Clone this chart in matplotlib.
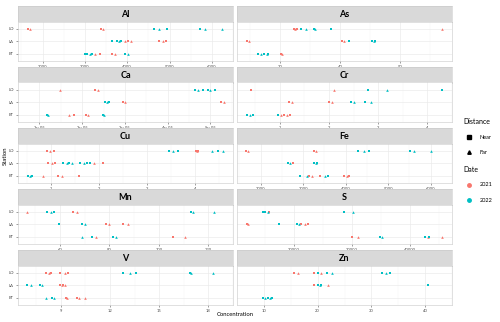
import matplotlib
matplotlib.use("Agg")
import matplotlib.pyplot as plt
from matplotlib.lines import Line2D
import numpy as np

plt.rcParams['font.family'] = ['Lato', 'DejaVu Sans']

# station codes, bottom to top
stations = ["BT", "LA", "LO"]
years = [2021, 2022]
year_colors = {2021: "#F8766D", 2022: "#00BFC4"}
dist_markers = {"Near": "s", "Far": "^"}

# (station, year, distance, concentration)
al = [("LO",2021,"Near",1650),("LO",2021,"Far",1700),("LO",2021,"Near",3370),("LO",2021,"Far",3430),
      ("LO",2022,"Near",4630),("LO",2022,"Far",4740),("LO",2022,"Near",4930),("LO",2022,"Near",5730),
      ("LO",2022,"Far",5845),("LO",2022,"Far",6250),
      ("LA",2022,"Near",3630),("LA",2022,"Near",3760),("LA",2022,"Far",3800),("LA",2022,"Near",3860),
      ("LA",2021,"Far",3940),("LA",2021,"Near",4020),("LA",2021,"Far",4100),("LA",2021,"Near",4760),
      ("LA",2021,"Far",4840),("LA",2021,"Near",4910),
      ("BT",2022,"Near",3010),("BT",2022,"Near",3060),("BT",2022,"Far",3110),("BT",2022,"Near",3165),
      ("BT",2021,"Far",3240),("BT",2021,"Near",3360),("BT",2021,"Near",3630),("BT",2021,"Far",3710),
      ("BT",2022,"Near",3940),("BT",2022,"Far",4020)]
as_ = [("LO",2021,"Near",32.2),("LO",2021,"Far",32.5),("LO",2021,"Near",32.8),("LO",2022,"Near",33.5),
       ("LO",2022,"Far",34.2),("LO",2022,"Near",35.6),("LO",2022,"Far",35.8),("LO",2022,"Near",38.5),
       ("LO",2021,"Far",57.0),
       ("LA",2021,"Near",24.4),("LA",2021,"Far",24.7),("LA",2021,"Near",40.3),("LA",2021,"Far",40.6),
       ("LA",2022,"Near",41.5),("LA",2022,"Near",45.3),("LA",2022,"Far",45.6),("LA",2022,"Near",45.8),
       ("BT",2022,"Near",26.2),("BT",2022,"Far",26.8),("BT",2022,"Near",27.3),("BT",2022,"Far",27.8),
       ("BT",2022,"Near",28.0),("BT",2021,"Near",30.1),("BT",2021,"Far",30.3)]
ca = [("LO",2021,"Far",148000),("LO",2021,"Near",230000),("LO",2021,"Far",236000),("LO",2022,"Near",465000),
      ("LO",2022,"Far",472000),("LO",2022,"Near",483000),("LO",2022,"Near",495000),("LO",2022,"Far",500000),
      ("LO",2022,"Near",510000),
      ("LA",2022,"Near",253000),("LA",2022,"Far",257000),("LA",2022,"Near",262000),("LA",2021,"Near",295000),
      ("LA",2021,"Far",300000),("LA",2021,"Near",524000),("LA",2021,"Far",532000),
      ("BT",2022,"Near",117000),("BT",2022,"Far",121000),("BT",2021,"Far",170000),("BT",2021,"Near",180000),
      ("BT",2021,"Near",208000),("BT",2021,"Far",213000),("BT",2022,"Near",248000),("BT",2022,"Far",252000)]
cr = [("LO",2021,"Near",0.41),("LO",2021,"Far",2.10),("LO",2022,"Near",2.79),("LO",2022,"Far",3.18),
      ("LO",2022,"Near",4.29),
      ("LA",2021,"Near",1.19),("LA",2021,"Far",1.25),("LA",2021,"Near",2.00),("LA",2021,"Far",2.06),
      ("LA",2022,"Near",2.45),("LA",2022,"Far",2.50),("LA",2022,"Near",2.74),("LA",2022,"Far",2.86),
      ("BT",2022,"Near",0.33),("BT",2022,"Far",0.40),("BT",2022,"Near",0.45),("BT",2022,"Near",0.96),
      ("BT",2021,"Far",1.02),("BT",2021,"Near",1.08),("BT",2021,"Far",1.15),("BT",2021,"Near",1.20)]
cu = [("LO",2021,"Near",0.92),("LO",2021,"Far",0.99),("LO",2021,"Near",1.07),("LO",2022,"Near",3.46),
      ("LO",2022,"Far",3.55),("LO",2022,"Near",3.65),("LO",2021,"Near",4.02),("LO",2021,"Far",4.04),
      ("LO",2021,"Near",4.06),("LO",2022,"Far",4.35),("LO",2022,"Near",4.48),("LO",2022,"Far",4.59),
      ("LA",2021,"Near",0.94),("LA",2021,"Far",1.02),("LA",2021,"Near",1.09),("LA",2022,"Near",1.26),
      ("LA",2022,"Far",1.33),("LA",2022,"Near",1.38),("LA",2022,"Far",1.44),("LA",2022,"Near",1.61),
      ("LA",2022,"Far",1.70),("LA",2022,"Near",1.75),("LA",2022,"Near",1.82),("LA",2021,"Far",1.90),
      ("LA",2021,"Near",2.09),
      ("BT",2022,"Near",0.52),("BT",2022,"Far",0.56),("BT",2022,"Near",0.61),("BT",2021,"Far",0.83),
      ("BT",2021,"Near",1.15),("BT",2021,"Far",1.23),("BT",2021,"Near",1.59)]
fe = [("LO",2021,"Near",1663),("LO",2021,"Far",1700),("LO",2021,"Near",3260),("LO",2021,"Far",3310),
      ("LO",2022,"Near",4284),("LO",2022,"Far",4420),("LO",2022,"Near",4550),("LO",2022,"Near",5503),
      ("LO",2022,"Far",5614),("LO",2022,"Far",5997),
      ("LA",2022,"Near",2650),("LA",2022,"Far",2700),("LA",2021,"Near",2770),("LA",2022,"Near",3260),
      ("LA",2022,"Far",3300),("LA",2022,"Near",3330),
      ("BT",2022,"Near",2916),("BT",2022,"Far",3090),("BT",2021,"Near",3150),("BT",2021,"Far",3200),
      ("BT",2021,"Near",3400),("BT",2022,"Far",3510),("BT",2022,"Near",3580),("BT",2021,"Near",3970),
      ("BT",2021,"Far",4030),("BT",2021,"Near",4080)]
mn = [("LO",2021,"Far",46.9),("LO",2022,"Near",55.0),("LO",2022,"Far",56.5),("LO",2022,"Near",57.8),
      ("LO",2021,"Near",65.5),("LO",2021,"Far",66.8),("LO",2022,"Near",113.0),("LO",2022,"Far",114.0),
      ("LO",2022,"Far",122.5),
      ("LA",2022,"Near",59.6),("LA",2022,"Near",68.9),("LA",2022,"Far",70.0),("LA",2021,"Near",78.5),
      ("LA",2021,"Far",79.8),("LA",2021,"Near",85.7),("LA",2021,"Far",87.6),
      ("BT",2022,"Far",69.0),("BT",2022,"Near",72.9),("BT",2021,"Far",74.8),("BT",2022,"Near",81.6),
      ("BT",2022,"Far",82.8),("BT",2021,"Near",105.8),("BT",2021,"Far",110.8)]
s = [("LO",2022,"Near",14650),("LO",2022,"Near",15100),("LO",2022,"Far",15500),("LO",2021,"Near",15800),
     ("LO",2022,"Near",28600),("LO",2022,"Far",30300),
     ("LA",2021,"Near",11900),("LA",2021,"Far",12100),("LA",2022,"Near",17400),("LA",2022,"Near",20500),
     ("LA",2022,"Far",20900),("LA",2021,"Near",21300),("LA",2021,"Far",21900),("LA",2021,"Near",22400),
     ("BT",2021,"Near",30100),("BT",2021,"Far",31150),("BT",2022,"Near",34800),("BT",2022,"Far",35200),
     ("BT",2022,"Near",42700),("BT",2021,"Far",43100),("BT",2022,"Near",43300),("BT",2021,"Far",45600)]
v = [("LO",2021,"Near",8.1),("LO",2021,"Far",8.3),("LO",2021,"Near",8.4),("LO",2021,"Near",8.94),
     ("LO",2021,"Far",9.23),("LO",2021,"Near",9.42),("LO",2022,"Near",12.8),("LO",2022,"Far",13.2),
     ("LO",2022,"Near",13.6),("LO",2022,"Near",16.9),("LO",2022,"Far",16.95),("LO",2022,"Far",18.3),
     ("LA",2022,"Near",6.95),("LA",2022,"Far",7.2),("LA",2022,"Near",7.75),("LA",2022,"Far",7.85),
     ("LA",2021,"Near",8.96),("LA",2021,"Far",9.05),("LA",2021,"Near",9.15),("LA",2021,"Far",9.25),
     ("BT",2022,"Far",8.07),("BT",2022,"Near",8.45),("BT",2022,"Far",8.55),("BT",2021,"Near",9.33),
     ("BT",2021,"Far",9.40),("BT",2021,"Near",10.0),("BT",2021,"Far",10.1),("BT",2021,"Far",10.5)]
zn = [("LO",2021,"Near",15.6),("LO",2021,"Far",16.3),("LO",2021,"Near",19.4),("LO",2022,"Near",20.1),
      ("LO",2021,"Far",20.7),("LO",2022,"Near",21.7),("LO",2022,"Far",22.7),("LO",2022,"Near",31.9),
      ("LO",2022,"Far",32.7),("LO",2022,"Near",33.5),
      ("LA",2021,"Near",19.4),("LA",2022,"Near",20.1),("LA",2022,"Far",20.4),("LA",2022,"Near",20.7),
      ("LA",2021,"Far",22.0),("LA",2022,"Near",40.6),
      ("BT",2022,"Near",9.9),("BT",2022,"Far",10.3),("BT",2022,"Near",10.8),("BT",2022,"Far",11.2),
      ("BT",2022,"Near",11.6)]

elements = ["Al", "As", "Ca", "Cr", "Cu", "Fe", "Mn", "S", "V", "Zn"]
element_data = [al, as_, ca, cr, cu, fe, mn, s, v, zn]
element_ticks = [[2000, 3000, 4000, 5000, 6000], [30, 40, 50],
                 [100000, 200000, 300000, 400000, 500000], [1, 2, 3, 4],
                 [1, 2, 3, 4], [2000, 3000, 4000, 5000, 6000],
                 [60, 80, 100, 120], [20000, 30000, 40000],
                 [9, 12, 15, 18], [10, 20, 30, 40]]
ca_labels = ["1e+05", "2e+05", "3e+05", "4e+05", "5e+05"]

W, H = 500, 322
fig = plt.figure(figsize=(W / 100, H / 100), dpi=100)

col_left = [18, 237]
panel_w = 215
strip_h = 15.5
panel_h = 39.5
pitch = 61

for k, (name, rows) in enumerate(zip(elements, element_data)):
    r, c = divmod(k, 2)
    top = 6 + pitch * r
    x0 = col_left[c]
    sax = fig.add_axes([x0 / W, 1 - (top + strip_h) / H, panel_w / W, strip_h / H])
    sax.set_facecolor("#D9D9D9")
    sax.set_xticks([]); sax.set_yticks([])
    for sp in sax.spines.values():
        sp.set_color("#C8C8C8"); sp.set_linewidth(0.4)
    sax.text(0.5, 0.45, name, ha="center", va="center", fontsize=6.5, fontweight="bold",
             transform=sax.transAxes)

    ax = fig.add_axes([x0 / W, 1 - (top + strip_h + panel_h) / H, panel_w / W, panel_h / H])
    ax.set_axisbelow(True)
    for yr in years:
        for d, m in dist_markers.items():
            vals = [row[3] for row in rows if row[1] == yr and row[2] == d]
            ys = [stations.index(row[0]) for row in rows if row[1] == yr and row[2] == d]
            ax.scatter(vals, ys, s=3.5, marker=m, color=year_colors[yr], linewidths=0, zorder=3)
    allv = [row[3] for row in rows]
    lo, hi = min(allv), max(allv)
    pad = (hi - lo) * 0.05
    ax.set_xlim(lo - pad, hi + pad)
    ax.set_ylim(-0.6, 2.6)
    ticks = element_ticks[k]
    ax.set_xticks(ticks)
    if name == "Ca":
        ax.set_xticklabels(ca_labels)
    else:
        ax.set_xticklabels([str(t) for t in ticks])
    step = ticks[1] - ticks[0]
    minors = np.arange(ticks[0] - step / 2, ticks[-1] + step, step)
    ax.set_xticks(minors, minor=True)
    ax.set_yticks(range(3))
    ax.set_yticklabels(stations if c == 0 else [])
    ax.grid(True, which="major", color="#EBEBEB", linewidth=0.5)
    ax.grid(True, which="minor", axis="x", color="#F4F4F4", linewidth=0.3)
    ax.tick_params(which="major", length=1.5, width=0.4, color="#555555", labelsize=3,
                   labelcolor="#4D4D4D", pad=1.5)
    ax.tick_params(which="minor", length=0)
    if c == 1:
        ax.tick_params(axis="y", length=0)
    for sp in ax.spines.values():
        sp.set_color("#C8C8C8"); sp.set_linewidth(0.4)

fig.text(235 / W, 1 - 314 / H, "Concentration", ha="center", va="center", fontsize=4.2)
fig.text(5 / W, 1 - 156 / H, "Station", ha="center", va="center", rotation=90, fontsize=4.2)

# legends
fig.text(463 / W, 1 - 121 / H, "Distance", ha="left", va="center", fontsize=5)
for i, (lab, m) in enumerate([("Near", "s"), ("Far", "^")]):
    y = 1 - (137 + 15 * i) / H
    fig.add_artist(Line2D([469 / W], [y], transform=fig.transFigure, marker=m,
                          markersize=2.5, color="black", linestyle="none"))
    fig.text(480 / W, y, lab, ha="left", va="center", fontsize=4)
fig.text(463 / W, 1 - 169 / H, "Date", ha="left", va="center", fontsize=5)
for i, yr in enumerate(years):
    y = 1 - (185 + 15 * i) / H
    fig.add_artist(Line2D([469 / W], [y], transform=fig.transFigure, marker="o",
                          markersize=2.5, color=year_colors[yr], linestyle="none"))
    fig.text(480 / W, y, str(yr), ha="left", va="center", fontsize=4)

fig.savefig("out.png", dpi=100)
